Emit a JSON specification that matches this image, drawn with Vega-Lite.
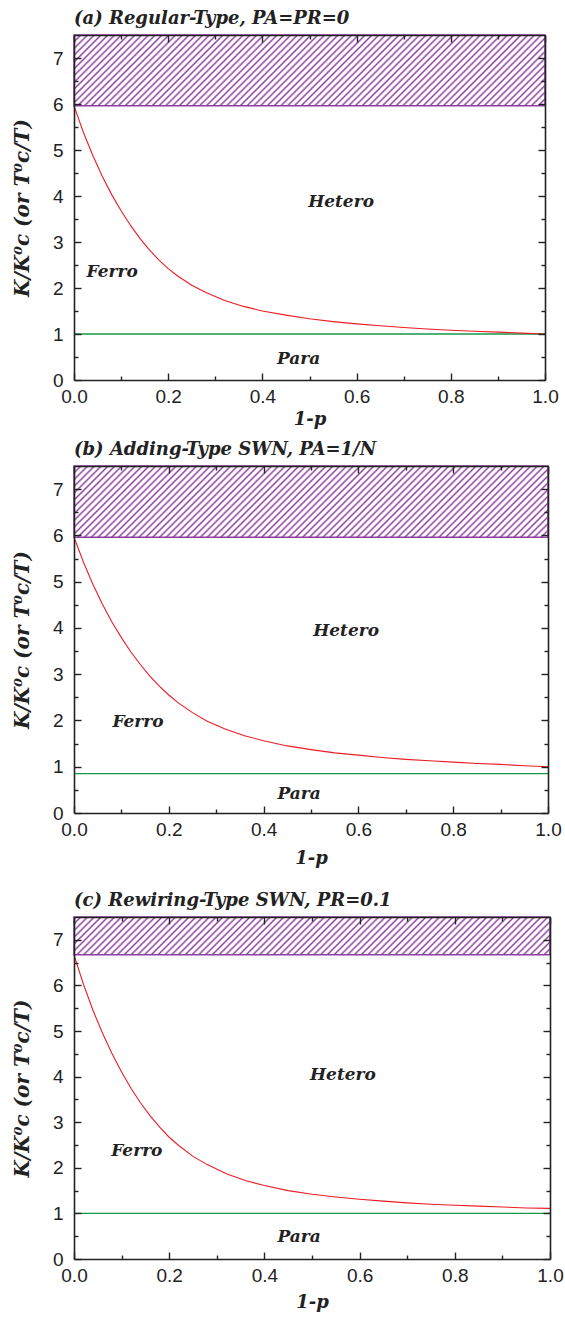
{
  "$schema": "https://vega.github.io/schema/vega-lite/v6.json",
  "background": "white",
  "padding": {"left": 12, "top": 10, "right": 5, "bottom": 5},
  "datasets": {
    "curveA": [
      {"p":0,"k":5.96},{"p":0.02,"k":5.38},{"p":0.04,"k":4.88},{"p":0.06,"k":4.43},{"p":0.08,"k":4.03},{"p":0.1,"k":3.68},{"p":0.12,"k":3.36},{"p":0.14,"k":3.08},{"p":0.16,"k":2.83},{"p":0.18,"k":2.61},{"p":0.2,"k":2.42},{"p":0.22,"k":2.26},{"p":0.25,"k":2.06},{"p":0.28,"k":1.9},{"p":0.32,"k":1.73},{"p":0.36,"k":1.6},{"p":0.4,"k":1.5},{"p":0.45,"k":1.41},{"p":0.5,"k":1.33},{"p":0.55,"k":1.27},{"p":0.6,"k":1.22},{"p":0.65,"k":1.18},{"p":0.7,"k":1.14},{"p":0.75,"k":1.11},{"p":0.8,"k":1.08},{"p":0.85,"k":1.06},{"p":0.9,"k":1.04},{"p":0.95,"k":1.02},{"p":1,"k":1.0}
    ],
    "curveB": [
      {"p":0,"k":5.96},{"p":0.02,"k":5.42},{"p":0.04,"k":4.94},{"p":0.06,"k":4.51},{"p":0.08,"k":4.13},{"p":0.1,"k":3.79},{"p":0.12,"k":3.48},{"p":0.14,"k":3.21},{"p":0.16,"k":2.96},{"p":0.18,"k":2.74},{"p":0.2,"k":2.55},{"p":0.22,"k":2.38},{"p":0.25,"k":2.17},{"p":0.28,"k":1.99},{"p":0.32,"k":1.81},{"p":0.36,"k":1.67},{"p":0.4,"k":1.56},{"p":0.45,"k":1.45},{"p":0.5,"k":1.37},{"p":0.55,"k":1.3},{"p":0.6,"k":1.25},{"p":0.65,"k":1.2},{"p":0.7,"k":1.16},{"p":0.75,"k":1.13},{"p":0.8,"k":1.1},{"p":0.85,"k":1.07},{"p":0.9,"k":1.05},{"p":0.95,"k":1.02},{"p":1,"k":1.0}
    ],
    "curveC": [
      {"p":0,"k":6.67},{"p":0.02,"k":6.02},{"p":0.04,"k":5.45},{"p":0.06,"k":4.95},{"p":0.08,"k":4.5},{"p":0.1,"k":4.1},{"p":0.12,"k":3.74},{"p":0.14,"k":3.42},{"p":0.16,"k":3.14},{"p":0.18,"k":2.89},{"p":0.2,"k":2.67},{"p":0.22,"k":2.49},{"p":0.25,"k":2.25},{"p":0.28,"k":2.07},{"p":0.32,"k":1.87},{"p":0.36,"k":1.72},{"p":0.4,"k":1.61},{"p":0.45,"k":1.5},{"p":0.5,"k":1.42},{"p":0.55,"k":1.36},{"p":0.6,"k":1.31},{"p":0.65,"k":1.27},{"p":0.7,"k":1.23},{"p":0.75,"k":1.2},{"p":0.8,"k":1.18},{"p":0.85,"k":1.16},{"p":0.9,"k":1.14},{"p":0.95,"k":1.12},{"p":1,"k":1.11}
    ]
  },
  "config": {
    "view": {"stroke": null},
    "axis": {
      "labelFont": "Liberation Sans", "labelFontSize": 19, "labelColor": "#222",
      "domainColor": "#222", "domainWidth": 1.6, "tickColor": "#222", "tickWidth": 1.4,
      "grid": false, "labelFlush": false, "labelOverlap": false,
      "titleFont": "DejaVu Serif", "titleFontStyle": "italic", "titleFontWeight": "bold", "titleFontSize": 18, "titleColor": "#222"
    },
    "title": {"font": "DejaVu Serif", "fontStyle": "italic", "fontWeight": "bold", "fontSize": 18, "color": "#222", "anchor": "start", "frame": "group", "offset": 6},
    "rect": {"color": {"gradient": "linear", "x1": 0, "y1": 0, "x2": 1.1249, "y2": 0.1692, "stops": [
{"offset":0,"color":"#8e3ea0"},{"offset":0.00375,"color":"#fff"},{"offset":0.00875,"color":"#fff"},{"offset":0.0125,"color":"#8e3ea0"},{"offset":0.01625,"color":"#fff"},{"offset":0.02125,"color":"#fff"},{"offset":0.025,"color":"#8e3ea0"},{"offset":0.02875,"color":"#fff"},{"offset":0.03375,"color":"#fff"},{"offset":0.0375,"color":"#8e3ea0"},{"offset":0.04125,"color":"#fff"},{"offset":0.04625,"color":"#fff"},{"offset":0.05,"color":"#8e3ea0"},{"offset":0.05375,"color":"#fff"},{"offset":0.05875,"color":"#fff"},{"offset":0.0625,"color":"#8e3ea0"},{"offset":0.06625,"color":"#fff"},{"offset":0.07125,"color":"#fff"},{"offset":0.075,"color":"#8e3ea0"},{"offset":0.07875,"color":"#fff"},{"offset":0.08375,"color":"#fff"},{"offset":0.0875,"color":"#8e3ea0"},{"offset":0.09125,"color":"#fff"},{"offset":0.09625,"color":"#fff"},
{"offset":0.1,"color":"#8e3ea0"},{"offset":0.10375,"color":"#fff"},{"offset":0.10875,"color":"#fff"},{"offset":0.1125,"color":"#8e3ea0"},{"offset":0.11625,"color":"#fff"},{"offset":0.12125,"color":"#fff"},{"offset":0.125,"color":"#8e3ea0"},{"offset":0.12875,"color":"#fff"},{"offset":0.13375,"color":"#fff"},{"offset":0.1375,"color":"#8e3ea0"},{"offset":0.14125,"color":"#fff"},{"offset":0.14625,"color":"#fff"},{"offset":0.15,"color":"#8e3ea0"},{"offset":0.15375,"color":"#fff"},{"offset":0.15875,"color":"#fff"},{"offset":0.1625,"color":"#8e3ea0"},{"offset":0.16625,"color":"#fff"},{"offset":0.17125,"color":"#fff"},{"offset":0.175,"color":"#8e3ea0"},{"offset":0.17875,"color":"#fff"},{"offset":0.18375,"color":"#fff"},{"offset":0.1875,"color":"#8e3ea0"},{"offset":0.19125,"color":"#fff"},{"offset":0.19625,"color":"#fff"},
{"offset":0.2,"color":"#8e3ea0"},{"offset":0.20375,"color":"#fff"},{"offset":0.20875,"color":"#fff"},{"offset":0.2125,"color":"#8e3ea0"},{"offset":0.21625,"color":"#fff"},{"offset":0.22125,"color":"#fff"},{"offset":0.225,"color":"#8e3ea0"},{"offset":0.22875,"color":"#fff"},{"offset":0.23375,"color":"#fff"},{"offset":0.2375,"color":"#8e3ea0"},{"offset":0.24125,"color":"#fff"},{"offset":0.24625,"color":"#fff"},{"offset":0.25,"color":"#8e3ea0"},{"offset":0.25375,"color":"#fff"},{"offset":0.25875,"color":"#fff"},{"offset":0.2625,"color":"#8e3ea0"},{"offset":0.26625,"color":"#fff"},{"offset":0.27125,"color":"#fff"},{"offset":0.275,"color":"#8e3ea0"},{"offset":0.27875,"color":"#fff"},{"offset":0.28375,"color":"#fff"},{"offset":0.2875,"color":"#8e3ea0"},{"offset":0.29125,"color":"#fff"},{"offset":0.29625,"color":"#fff"},
{"offset":0.3,"color":"#8e3ea0"},{"offset":0.30375,"color":"#fff"},{"offset":0.30875,"color":"#fff"},{"offset":0.3125,"color":"#8e3ea0"},{"offset":0.31625,"color":"#fff"},{"offset":0.32125,"color":"#fff"},{"offset":0.325,"color":"#8e3ea0"},{"offset":0.32875,"color":"#fff"},{"offset":0.33375,"color":"#fff"},{"offset":0.3375,"color":"#8e3ea0"},{"offset":0.34125,"color":"#fff"},{"offset":0.34625,"color":"#fff"},{"offset":0.35,"color":"#8e3ea0"},{"offset":0.35375,"color":"#fff"},{"offset":0.35875,"color":"#fff"},{"offset":0.3625,"color":"#8e3ea0"},{"offset":0.36625,"color":"#fff"},{"offset":0.37125,"color":"#fff"},{"offset":0.375,"color":"#8e3ea0"},{"offset":0.37875,"color":"#fff"},{"offset":0.38375,"color":"#fff"},{"offset":0.3875,"color":"#8e3ea0"},{"offset":0.39125,"color":"#fff"},{"offset":0.39625,"color":"#fff"},
{"offset":0.4,"color":"#8e3ea0"},{"offset":0.40375,"color":"#fff"},{"offset":0.40875,"color":"#fff"},{"offset":0.4125,"color":"#8e3ea0"},{"offset":0.41625,"color":"#fff"},{"offset":0.42125,"color":"#fff"},{"offset":0.425,"color":"#8e3ea0"},{"offset":0.42875,"color":"#fff"},{"offset":0.43375,"color":"#fff"},{"offset":0.4375,"color":"#8e3ea0"},{"offset":0.44125,"color":"#fff"},{"offset":0.44625,"color":"#fff"},{"offset":0.45,"color":"#8e3ea0"},{"offset":0.45375,"color":"#fff"},{"offset":0.45875,"color":"#fff"},{"offset":0.4625,"color":"#8e3ea0"},{"offset":0.46625,"color":"#fff"},{"offset":0.47125,"color":"#fff"},{"offset":0.475,"color":"#8e3ea0"},{"offset":0.47875,"color":"#fff"},{"offset":0.48375,"color":"#fff"},{"offset":0.4875,"color":"#8e3ea0"},{"offset":0.49125,"color":"#fff"},{"offset":0.49625,"color":"#fff"},
{"offset":0.5,"color":"#8e3ea0"},{"offset":0.50375,"color":"#fff"},{"offset":0.50875,"color":"#fff"},{"offset":0.5125,"color":"#8e3ea0"},{"offset":0.51625,"color":"#fff"},{"offset":0.52125,"color":"#fff"},{"offset":0.525,"color":"#8e3ea0"},{"offset":0.52875,"color":"#fff"},{"offset":0.53375,"color":"#fff"},{"offset":0.5375,"color":"#8e3ea0"},{"offset":0.54125,"color":"#fff"},{"offset":0.54625,"color":"#fff"},{"offset":0.55,"color":"#8e3ea0"},{"offset":0.55375,"color":"#fff"},{"offset":0.55875,"color":"#fff"},{"offset":0.5625,"color":"#8e3ea0"},{"offset":0.56625,"color":"#fff"},{"offset":0.57125,"color":"#fff"},{"offset":0.575,"color":"#8e3ea0"},{"offset":0.57875,"color":"#fff"},{"offset":0.58375,"color":"#fff"},{"offset":0.5875,"color":"#8e3ea0"},{"offset":0.59125,"color":"#fff"},{"offset":0.59625,"color":"#fff"},
{"offset":0.6,"color":"#8e3ea0"},{"offset":0.60375,"color":"#fff"},{"offset":0.60875,"color":"#fff"},{"offset":0.6125,"color":"#8e3ea0"},{"offset":0.61625,"color":"#fff"},{"offset":0.62125,"color":"#fff"},{"offset":0.625,"color":"#8e3ea0"},{"offset":0.62875,"color":"#fff"},{"offset":0.63375,"color":"#fff"},{"offset":0.6375,"color":"#8e3ea0"},{"offset":0.64125,"color":"#fff"},{"offset":0.64625,"color":"#fff"},{"offset":0.65,"color":"#8e3ea0"},{"offset":0.65375,"color":"#fff"},{"offset":0.65875,"color":"#fff"},{"offset":0.6625,"color":"#8e3ea0"},{"offset":0.66625,"color":"#fff"},{"offset":0.67125,"color":"#fff"},{"offset":0.675,"color":"#8e3ea0"},{"offset":0.67875,"color":"#fff"},{"offset":0.68375,"color":"#fff"},{"offset":0.6875,"color":"#8e3ea0"},{"offset":0.69125,"color":"#fff"},{"offset":0.69625,"color":"#fff"},
{"offset":0.7,"color":"#8e3ea0"},{"offset":0.70375,"color":"#fff"},{"offset":0.70875,"color":"#fff"},{"offset":0.7125,"color":"#8e3ea0"},{"offset":0.71625,"color":"#fff"},{"offset":0.72125,"color":"#fff"},{"offset":0.725,"color":"#8e3ea0"},{"offset":0.72875,"color":"#fff"},{"offset":0.73375,"color":"#fff"},{"offset":0.7375,"color":"#8e3ea0"},{"offset":0.74125,"color":"#fff"},{"offset":0.74625,"color":"#fff"},{"offset":0.75,"color":"#8e3ea0"},{"offset":0.75375,"color":"#fff"},{"offset":0.75875,"color":"#fff"},{"offset":0.7625,"color":"#8e3ea0"},{"offset":0.76625,"color":"#fff"},{"offset":0.77125,"color":"#fff"},{"offset":0.775,"color":"#8e3ea0"},{"offset":0.77875,"color":"#fff"},{"offset":0.78375,"color":"#fff"},{"offset":0.7875,"color":"#8e3ea0"},{"offset":0.79125,"color":"#fff"},{"offset":0.79625,"color":"#fff"},
{"offset":0.8,"color":"#8e3ea0"},{"offset":0.80375,"color":"#fff"},{"offset":0.80875,"color":"#fff"},{"offset":0.8125,"color":"#8e3ea0"},{"offset":0.81625,"color":"#fff"},{"offset":0.82125,"color":"#fff"},{"offset":0.825,"color":"#8e3ea0"},{"offset":0.82875,"color":"#fff"},{"offset":0.83375,"color":"#fff"},{"offset":0.8375,"color":"#8e3ea0"},{"offset":0.84125,"color":"#fff"},{"offset":0.84625,"color":"#fff"},{"offset":0.85,"color":"#8e3ea0"},{"offset":0.85375,"color":"#fff"},{"offset":0.85875,"color":"#fff"},{"offset":0.8625,"color":"#8e3ea0"},{"offset":0.86625,"color":"#fff"},{"offset":0.87125,"color":"#fff"},{"offset":0.875,"color":"#8e3ea0"},{"offset":0.87875,"color":"#fff"},{"offset":0.88375,"color":"#fff"},{"offset":0.8875,"color":"#8e3ea0"},{"offset":0.89125,"color":"#fff"},{"offset":0.89625,"color":"#fff"},
{"offset":0.9,"color":"#8e3ea0"},{"offset":0.90375,"color":"#fff"},{"offset":0.90875,"color":"#fff"},{"offset":0.9125,"color":"#8e3ea0"},{"offset":0.91625,"color":"#fff"},{"offset":0.92125,"color":"#fff"},{"offset":0.925,"color":"#8e3ea0"},{"offset":0.92875,"color":"#fff"},{"offset":0.93375,"color":"#fff"},{"offset":0.9375,"color":"#8e3ea0"},{"offset":0.94125,"color":"#fff"},{"offset":0.94625,"color":"#fff"},{"offset":0.95,"color":"#8e3ea0"},{"offset":0.95375,"color":"#fff"},{"offset":0.95875,"color":"#fff"},{"offset":0.9625,"color":"#8e3ea0"},{"offset":0.96625,"color":"#fff"},{"offset":0.97125,"color":"#fff"},{"offset":0.975,"color":"#8e3ea0"},{"offset":0.97875,"color":"#fff"},{"offset":0.98375,"color":"#fff"},{"offset":0.9875,"color":"#8e3ea0"},{"offset":0.99125,"color":"#fff"},{"offset":0.99625,"color":"#fff"},
{"offset":1,"color":"#8e3ea0"}
    ]}}
  },
  "spacing": 25,
  "vconcat": [
    {
      "spacing": 13,
      "vconcat": [
        {
          "width": 471, "height": 345,
          "title": {"text": "(a)  Regular-Type,  PA=PR=0"},
          "resolve": {"axis": {"x": "independent", "y": "independent"}},
          "layer": [
            {
              "data": {"values": [{"x0": 0, "x1": 1, "y0": 5.96, "y1": 7.5}]},
              "mark": {"type": "rect", "stroke": "#8e3ea0", "strokeWidth": 1.5},
              "encoding": {
                "x": {"field": "x0", "type": "quantitative", "scale": {"domain": [0, 1], "nice": false, "zero": false},
                      "axis": {"orient": "bottom", "values": [0, 0.2, 0.4, 0.6, 0.8, 1], "format": ".1f", "title": "1-p", "tickSize": -7, "labelPadding": 14, "titlePadding": 4, "zindex": 1}},
                "x2": {"field": "x1"},
                "y": {"field": "y0", "type": "quantitative", "scale": {"domain": [0, 7.5], "nice": false, "zero": false},
                      "axis": {"orient": "left", "values": [0, 1, 2, 3, 4, 5, 6, 7], "format": "d", "title": "K/K⁰c   (or  T⁰c/T)", "titleFontSize": 20, "tickSize": -7, "labelPadding": 18, "titlePadding": 20, "zindex": 1}},
                "y2": {"field": "y1"}
              }
            },
            {
              "data": {"values": [{"x0": 0, "x1": 1, "y": 1}]},
              "mark": {"type": "rule", "color": "#13994a", "strokeWidth": 1.3},
              "encoding": {
                "x": {"field": "x0", "type": "quantitative", "axis": {"orient": "bottom", "values": [0.1, 0.3, 0.5, 0.7, 0.9], "labels": false, "title": null, "domain": false, "tickSize": -4, "zindex": 1}},
                "x2": {"field": "x1"},
                "y": {"field": "y", "type": "quantitative", "axis": {"orient": "left", "values": [0.5, 1.5, 2.5, 3.5, 4.5, 5.5, 6.5], "labels": false, "title": null, "domain": false, "tickSize": -4, "zindex": 1}}
              }
            },
            {
              "data": {"name": "curveA"},
              "mark": {"type": "line", "color": "#ee1c24", "strokeWidth": 1.1},
              "encoding": {
                "x": {"field": "p", "type": "quantitative", "axis": {"orient": "top", "values": [0, 0.2, 0.4, 0.6, 0.8, 1], "labels": false, "title": null, "tickSize": -7, "zindex": 1}},
                "y": {"field": "k", "type": "quantitative", "axis": {"orient": "right", "values": [0, 1, 2, 3, 4, 5, 6, 7], "labels": false, "title": null, "tickSize": -7, "zindex": 1}}
              }
            },
            {
              "data": {"values": [{"x": 0.567, "y": 3.87, "t": "Hetero"}, {"x": 0.081, "y": 2.35, "t": "Ferro"}, {"x": 0.477, "y": 0.46, "t": "Para"}]},
              "mark": {"type": "text", "font": "DejaVu Serif", "fontStyle": "italic", "fontWeight": "bold", "fontSize": 17, "color": "#222", "align": "center", "baseline": "middle"},
              "encoding": {
                "x": {"field": "x", "type": "quantitative", "axis": {"orient": "top", "values": [0.1, 0.3, 0.5, 0.7, 0.9], "labels": false, "title": null, "domain": false, "tickSize": -4, "zindex": 1}},
                "y": {"field": "y", "type": "quantitative", "axis": {"orient": "right", "values": [0.5, 1.5, 2.5, 3.5, 4.5, 5.5, 6.5], "labels": false, "title": null, "domain": false, "tickSize": -4, "zindex": 1}},
                "text": {"field": "t"}
              }
            }
          ]
        },
        {
          "width": 474, "height": 347,
          "title": {"text": "(b)  Adding-Type SWN,  PA=1/N"},
          "resolve": {"axis": {"x": "independent", "y": "independent"}},
          "layer": [
            {
              "data": {"values": [{"x0": 0, "x1": 1, "y0": 5.96, "y1": 7.5}]},
              "mark": {"type": "rect", "stroke": "#8e3ea0", "strokeWidth": 1.5},
              "encoding": {
                "x": {"field": "x0", "type": "quantitative", "scale": {"domain": [0, 1], "nice": false, "zero": false},
                      "axis": {"orient": "bottom", "values": [0, 0.2, 0.4, 0.6, 0.8, 1], "format": ".1f", "title": "1-p", "tickSize": -7, "labelPadding": 14, "titlePadding": 10, "zindex": 1}},
                "x2": {"field": "x1"},
                "y": {"field": "y0", "type": "quantitative", "scale": {"domain": [0, 7.5], "nice": false, "zero": false},
                      "axis": {"orient": "left", "values": [0, 1, 2, 3, 4, 5, 6, 7], "format": "d", "title": "K/K⁰c   (or  T⁰c/T)", "titleFontSize": 20, "tickSize": -7, "labelPadding": 18, "titlePadding": 20, "zindex": 1}},
                "y2": {"field": "y1"}
              }
            },
            {
              "data": {"values": [{"x0": 0, "x1": 1, "y": 0.85}]},
              "mark": {"type": "rule", "color": "#13994a", "strokeWidth": 1.3},
              "encoding": {
                "x": {"field": "x0", "type": "quantitative", "axis": {"orient": "bottom", "values": [0.1, 0.3, 0.5, 0.7, 0.9], "labels": false, "title": null, "domain": false, "tickSize": -4, "zindex": 1}},
                "x2": {"field": "x1"},
                "y": {"field": "y", "type": "quantitative", "axis": {"orient": "left", "values": [0.5, 1.5, 2.5, 3.5, 4.5, 5.5, 6.5], "labels": false, "title": null, "domain": false, "tickSize": -4, "zindex": 1}}
              }
            },
            {
              "data": {"name": "curveB"},
              "mark": {"type": "line", "color": "#ee1c24", "strokeWidth": 1.1},
              "encoding": {
                "x": {"field": "p", "type": "quantitative", "axis": {"orient": "top", "values": [0, 0.2, 0.4, 0.6, 0.8, 1], "labels": false, "title": null, "tickSize": -7, "zindex": 1}},
                "y": {"field": "k", "type": "quantitative", "axis": {"orient": "right", "values": [0, 1, 2, 3, 4, 5, 6, 7], "labels": false, "title": null, "tickSize": -7, "zindex": 1}}
              }
            },
            {
              "data": {"values": [{"x": 0.574, "y": 3.94, "t": "Hetero"}, {"x": 0.135, "y": 1.97, "t": "Ferro"}, {"x": 0.475, "y": 0.42, "t": "Para"}]},
              "mark": {"type": "text", "font": "DejaVu Serif", "fontStyle": "italic", "fontWeight": "bold", "fontSize": 17, "color": "#222", "align": "center", "baseline": "middle"},
              "encoding": {
                "x": {"field": "x", "type": "quantitative", "axis": {"orient": "top", "values": [0.1, 0.3, 0.5, 0.7, 0.9], "labels": false, "title": null, "domain": false, "tickSize": -4, "zindex": 1}},
                "y": {"field": "y", "type": "quantitative", "axis": {"orient": "right", "values": [0.5, 1.5, 2.5, 3.5, 4.5, 5.5, 6.5], "labels": false, "title": null, "domain": false, "tickSize": -4, "zindex": 1}},
                "text": {"field": "t"}
              }
            }
          ]
        }
      ]
    },
    {
      "width": 476, "height": 342,
      "title": {"text": "(c)  Rewiring-Type SWN,  PR=0.1"},
      "resolve": {"axis": {"x": "independent", "y": "independent"}},
      "layer": [
        {
          "data": {"values": [{"x0": 0, "x1": 1, "y0": 6.67, "y1": 7.5}]},
          "mark": {"type": "rect", "stroke": "#8e3ea0", "strokeWidth": 1.5, "fill": {"gradient": "linear", "x1": 0, "y1": 0, "x2": 1.1306, "y2": 0.0899, "stops": [
{"offset":0,"color":"#8e3ea0"},{"offset":0.00375,"color":"#fff"},{"offset":0.00875,"color":"#fff"},{"offset":0.0125,"color":"#8e3ea0"},{"offset":0.01625,"color":"#fff"},{"offset":0.02125,"color":"#fff"},{"offset":0.025,"color":"#8e3ea0"},{"offset":0.02875,"color":"#fff"},{"offset":0.03375,"color":"#fff"},{"offset":0.0375,"color":"#8e3ea0"},{"offset":0.04125,"color":"#fff"},{"offset":0.04625,"color":"#fff"},{"offset":0.05,"color":"#8e3ea0"},{"offset":0.05375,"color":"#fff"},{"offset":0.05875,"color":"#fff"},{"offset":0.0625,"color":"#8e3ea0"},{"offset":0.06625,"color":"#fff"},{"offset":0.07125,"color":"#fff"},{"offset":0.075,"color":"#8e3ea0"},{"offset":0.07875,"color":"#fff"},{"offset":0.08375,"color":"#fff"},{"offset":0.0875,"color":"#8e3ea0"},{"offset":0.09125,"color":"#fff"},{"offset":0.09625,"color":"#fff"},
{"offset":0.1,"color":"#8e3ea0"},{"offset":0.10375,"color":"#fff"},{"offset":0.10875,"color":"#fff"},{"offset":0.1125,"color":"#8e3ea0"},{"offset":0.11625,"color":"#fff"},{"offset":0.12125,"color":"#fff"},{"offset":0.125,"color":"#8e3ea0"},{"offset":0.12875,"color":"#fff"},{"offset":0.13375,"color":"#fff"},{"offset":0.1375,"color":"#8e3ea0"},{"offset":0.14125,"color":"#fff"},{"offset":0.14625,"color":"#fff"},{"offset":0.15,"color":"#8e3ea0"},{"offset":0.15375,"color":"#fff"},{"offset":0.15875,"color":"#fff"},{"offset":0.1625,"color":"#8e3ea0"},{"offset":0.16625,"color":"#fff"},{"offset":0.17125,"color":"#fff"},{"offset":0.175,"color":"#8e3ea0"},{"offset":0.17875,"color":"#fff"},{"offset":0.18375,"color":"#fff"},{"offset":0.1875,"color":"#8e3ea0"},{"offset":0.19125,"color":"#fff"},{"offset":0.19625,"color":"#fff"},
{"offset":0.2,"color":"#8e3ea0"},{"offset":0.20375,"color":"#fff"},{"offset":0.20875,"color":"#fff"},{"offset":0.2125,"color":"#8e3ea0"},{"offset":0.21625,"color":"#fff"},{"offset":0.22125,"color":"#fff"},{"offset":0.225,"color":"#8e3ea0"},{"offset":0.22875,"color":"#fff"},{"offset":0.23375,"color":"#fff"},{"offset":0.2375,"color":"#8e3ea0"},{"offset":0.24125,"color":"#fff"},{"offset":0.24625,"color":"#fff"},{"offset":0.25,"color":"#8e3ea0"},{"offset":0.25375,"color":"#fff"},{"offset":0.25875,"color":"#fff"},{"offset":0.2625,"color":"#8e3ea0"},{"offset":0.26625,"color":"#fff"},{"offset":0.27125,"color":"#fff"},{"offset":0.275,"color":"#8e3ea0"},{"offset":0.27875,"color":"#fff"},{"offset":0.28375,"color":"#fff"},{"offset":0.2875,"color":"#8e3ea0"},{"offset":0.29125,"color":"#fff"},{"offset":0.29625,"color":"#fff"},
{"offset":0.3,"color":"#8e3ea0"},{"offset":0.30375,"color":"#fff"},{"offset":0.30875,"color":"#fff"},{"offset":0.3125,"color":"#8e3ea0"},{"offset":0.31625,"color":"#fff"},{"offset":0.32125,"color":"#fff"},{"offset":0.325,"color":"#8e3ea0"},{"offset":0.32875,"color":"#fff"},{"offset":0.33375,"color":"#fff"},{"offset":0.3375,"color":"#8e3ea0"},{"offset":0.34125,"color":"#fff"},{"offset":0.34625,"color":"#fff"},{"offset":0.35,"color":"#8e3ea0"},{"offset":0.35375,"color":"#fff"},{"offset":0.35875,"color":"#fff"},{"offset":0.3625,"color":"#8e3ea0"},{"offset":0.36625,"color":"#fff"},{"offset":0.37125,"color":"#fff"},{"offset":0.375,"color":"#8e3ea0"},{"offset":0.37875,"color":"#fff"},{"offset":0.38375,"color":"#fff"},{"offset":0.3875,"color":"#8e3ea0"},{"offset":0.39125,"color":"#fff"},{"offset":0.39625,"color":"#fff"},
{"offset":0.4,"color":"#8e3ea0"},{"offset":0.40375,"color":"#fff"},{"offset":0.40875,"color":"#fff"},{"offset":0.4125,"color":"#8e3ea0"},{"offset":0.41625,"color":"#fff"},{"offset":0.42125,"color":"#fff"},{"offset":0.425,"color":"#8e3ea0"},{"offset":0.42875,"color":"#fff"},{"offset":0.43375,"color":"#fff"},{"offset":0.4375,"color":"#8e3ea0"},{"offset":0.44125,"color":"#fff"},{"offset":0.44625,"color":"#fff"},{"offset":0.45,"color":"#8e3ea0"},{"offset":0.45375,"color":"#fff"},{"offset":0.45875,"color":"#fff"},{"offset":0.4625,"color":"#8e3ea0"},{"offset":0.46625,"color":"#fff"},{"offset":0.47125,"color":"#fff"},{"offset":0.475,"color":"#8e3ea0"},{"offset":0.47875,"color":"#fff"},{"offset":0.48375,"color":"#fff"},{"offset":0.4875,"color":"#8e3ea0"},{"offset":0.49125,"color":"#fff"},{"offset":0.49625,"color":"#fff"},
{"offset":0.5,"color":"#8e3ea0"},{"offset":0.50375,"color":"#fff"},{"offset":0.50875,"color":"#fff"},{"offset":0.5125,"color":"#8e3ea0"},{"offset":0.51625,"color":"#fff"},{"offset":0.52125,"color":"#fff"},{"offset":0.525,"color":"#8e3ea0"},{"offset":0.52875,"color":"#fff"},{"offset":0.53375,"color":"#fff"},{"offset":0.5375,"color":"#8e3ea0"},{"offset":0.54125,"color":"#fff"},{"offset":0.54625,"color":"#fff"},{"offset":0.55,"color":"#8e3ea0"},{"offset":0.55375,"color":"#fff"},{"offset":0.55875,"color":"#fff"},{"offset":0.5625,"color":"#8e3ea0"},{"offset":0.56625,"color":"#fff"},{"offset":0.57125,"color":"#fff"},{"offset":0.575,"color":"#8e3ea0"},{"offset":0.57875,"color":"#fff"},{"offset":0.58375,"color":"#fff"},{"offset":0.5875,"color":"#8e3ea0"},{"offset":0.59125,"color":"#fff"},{"offset":0.59625,"color":"#fff"},
{"offset":0.6,"color":"#8e3ea0"},{"offset":0.60375,"color":"#fff"},{"offset":0.60875,"color":"#fff"},{"offset":0.6125,"color":"#8e3ea0"},{"offset":0.61625,"color":"#fff"},{"offset":0.62125,"color":"#fff"},{"offset":0.625,"color":"#8e3ea0"},{"offset":0.62875,"color":"#fff"},{"offset":0.63375,"color":"#fff"},{"offset":0.6375,"color":"#8e3ea0"},{"offset":0.64125,"color":"#fff"},{"offset":0.64625,"color":"#fff"},{"offset":0.65,"color":"#8e3ea0"},{"offset":0.65375,"color":"#fff"},{"offset":0.65875,"color":"#fff"},{"offset":0.6625,"color":"#8e3ea0"},{"offset":0.66625,"color":"#fff"},{"offset":0.67125,"color":"#fff"},{"offset":0.675,"color":"#8e3ea0"},{"offset":0.67875,"color":"#fff"},{"offset":0.68375,"color":"#fff"},{"offset":0.6875,"color":"#8e3ea0"},{"offset":0.69125,"color":"#fff"},{"offset":0.69625,"color":"#fff"},
{"offset":0.7,"color":"#8e3ea0"},{"offset":0.70375,"color":"#fff"},{"offset":0.70875,"color":"#fff"},{"offset":0.7125,"color":"#8e3ea0"},{"offset":0.71625,"color":"#fff"},{"offset":0.72125,"color":"#fff"},{"offset":0.725,"color":"#8e3ea0"},{"offset":0.72875,"color":"#fff"},{"offset":0.73375,"color":"#fff"},{"offset":0.7375,"color":"#8e3ea0"},{"offset":0.74125,"color":"#fff"},{"offset":0.74625,"color":"#fff"},{"offset":0.75,"color":"#8e3ea0"},{"offset":0.75375,"color":"#fff"},{"offset":0.75875,"color":"#fff"},{"offset":0.7625,"color":"#8e3ea0"},{"offset":0.76625,"color":"#fff"},{"offset":0.77125,"color":"#fff"},{"offset":0.775,"color":"#8e3ea0"},{"offset":0.77875,"color":"#fff"},{"offset":0.78375,"color":"#fff"},{"offset":0.7875,"color":"#8e3ea0"},{"offset":0.79125,"color":"#fff"},{"offset":0.79625,"color":"#fff"},
{"offset":0.8,"color":"#8e3ea0"},{"offset":0.80375,"color":"#fff"},{"offset":0.80875,"color":"#fff"},{"offset":0.8125,"color":"#8e3ea0"},{"offset":0.81625,"color":"#fff"},{"offset":0.82125,"color":"#fff"},{"offset":0.825,"color":"#8e3ea0"},{"offset":0.82875,"color":"#fff"},{"offset":0.83375,"color":"#fff"},{"offset":0.8375,"color":"#8e3ea0"},{"offset":0.84125,"color":"#fff"},{"offset":0.84625,"color":"#fff"},{"offset":0.85,"color":"#8e3ea0"},{"offset":0.85375,"color":"#fff"},{"offset":0.85875,"color":"#fff"},{"offset":0.8625,"color":"#8e3ea0"},{"offset":0.86625,"color":"#fff"},{"offset":0.87125,"color":"#fff"},{"offset":0.875,"color":"#8e3ea0"},{"offset":0.87875,"color":"#fff"},{"offset":0.88375,"color":"#fff"},{"offset":0.8875,"color":"#8e3ea0"},{"offset":0.89125,"color":"#fff"},{"offset":0.89625,"color":"#fff"},
{"offset":0.9,"color":"#8e3ea0"},{"offset":0.90375,"color":"#fff"},{"offset":0.90875,"color":"#fff"},{"offset":0.9125,"color":"#8e3ea0"},{"offset":0.91625,"color":"#fff"},{"offset":0.92125,"color":"#fff"},{"offset":0.925,"color":"#8e3ea0"},{"offset":0.92875,"color":"#fff"},{"offset":0.93375,"color":"#fff"},{"offset":0.9375,"color":"#8e3ea0"},{"offset":0.94125,"color":"#fff"},{"offset":0.94625,"color":"#fff"},{"offset":0.95,"color":"#8e3ea0"},{"offset":0.95375,"color":"#fff"},{"offset":0.95875,"color":"#fff"},{"offset":0.9625,"color":"#8e3ea0"},{"offset":0.96625,"color":"#fff"},{"offset":0.97125,"color":"#fff"},{"offset":0.975,"color":"#8e3ea0"},{"offset":0.97875,"color":"#fff"},{"offset":0.98375,"color":"#fff"},{"offset":0.9875,"color":"#8e3ea0"},{"offset":0.99125,"color":"#fff"},{"offset":0.99625,"color":"#fff"},
{"offset":1,"color":"#8e3ea0"}
          ]}},
          "encoding": {
            "x": {"field": "x0", "type": "quantitative", "scale": {"domain": [0, 1], "nice": false, "zero": false},
                  "axis": {"orient": "bottom", "values": [0, 0.2, 0.4, 0.6, 0.8, 1], "format": ".1f", "title": "1-p", "tickSize": -7, "labelPadding": 14, "titlePadding": 8, "zindex": 1}},
            "x2": {"field": "x1"},
            "y": {"field": "y0", "type": "quantitative", "scale": {"domain": [0, 7.5], "nice": false, "zero": false},
                  "axis": {"orient": "left", "values": [0, 1, 2, 3, 4, 5, 6, 7], "format": "d", "title": "K/K⁰c   (or  T⁰c/T)", "titleFontSize": 20, "tickSize": -7, "labelPadding": 18, "titlePadding": 20, "zindex": 1}},
            "y2": {"field": "y1"}
          }
        },
        {
          "data": {"values": [{"x0": 0, "x1": 1, "y": 1}]},
          "mark": {"type": "rule", "color": "#13994a", "strokeWidth": 1.3},
          "encoding": {
            "x": {"field": "x0", "type": "quantitative", "axis": {"orient": "bottom", "values": [0.1, 0.3, 0.5, 0.7, 0.9], "labels": false, "title": null, "domain": false, "tickSize": -4, "zindex": 1}},
            "x2": {"field": "x1"},
            "y": {"field": "y", "type": "quantitative", "axis": {"orient": "left", "values": [0.5, 1.5, 2.5, 3.5, 4.5, 5.5, 6.5], "labels": false, "title": null, "domain": false, "tickSize": -4, "zindex": 1}}
          }
        },
        {
          "data": {"name": "curveC"},
          "mark": {"type": "line", "color": "#ee1c24", "strokeWidth": 1.1},
          "encoding": {
            "x": {"field": "p", "type": "quantitative", "axis": {"orient": "top", "values": [0, 0.2, 0.4, 0.6, 0.8, 1], "labels": false, "title": null, "tickSize": -7, "zindex": 1}},
            "y": {"field": "k", "type": "quantitative", "axis": {"orient": "right", "values": [0, 1, 2, 3, 4, 5, 6, 7], "labels": false, "title": null, "tickSize": -7, "zindex": 1}}
          }
        },
        {
          "data": {"values": [{"x": 0.565, "y": 4.03, "t": "Hetero"}, {"x": 0.132, "y": 2.37, "t": "Ferro"}, {"x": 0.473, "y": 0.48, "t": "Para"}]},
          "mark": {"type": "text", "font": "DejaVu Serif", "fontStyle": "italic", "fontWeight": "bold", "fontSize": 17, "color": "#222", "align": "center", "baseline": "middle"},
          "encoding": {
            "x": {"field": "x", "type": "quantitative", "axis": {"orient": "top", "values": [0.1, 0.3, 0.5, 0.7, 0.9], "labels": false, "title": null, "domain": false, "tickSize": -4, "zindex": 1}},
            "y": {"field": "y", "type": "quantitative", "axis": {"orient": "right", "values": [0.5, 1.5, 2.5, 3.5, 4.5, 5.5, 6.5], "labels": false, "title": null, "domain": false, "tickSize": -4, "zindex": 1}},
            "text": {"field": "t"}
          }
        }
      ]
    }
  ]
}
